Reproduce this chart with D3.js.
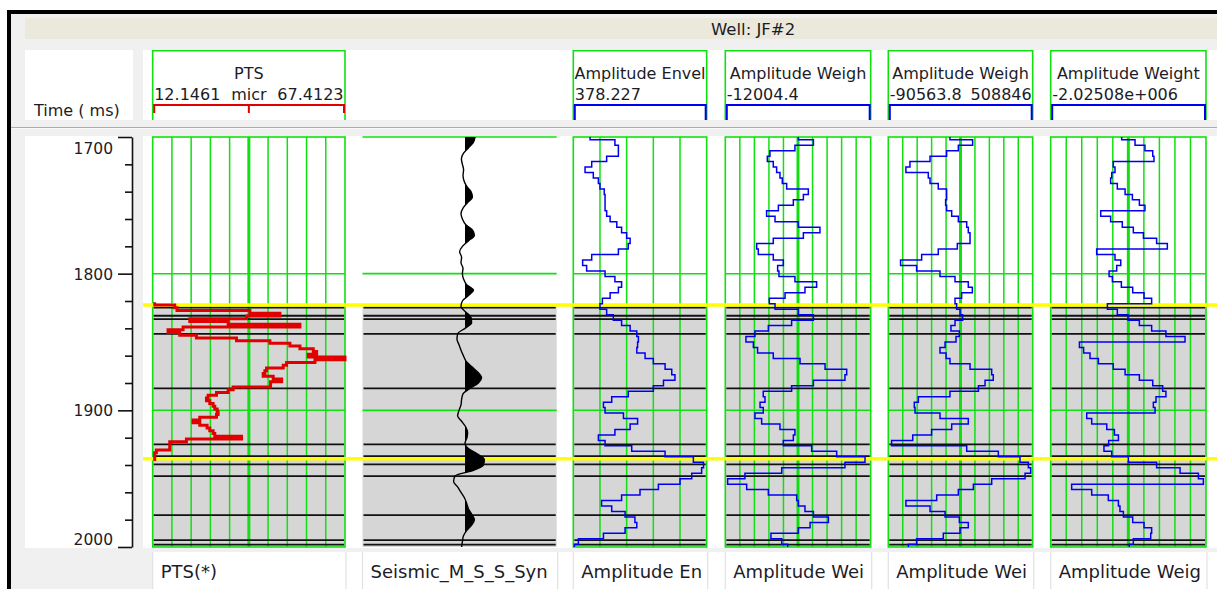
<!DOCTYPE html>
<html>
<head>
<meta charset="utf-8">
<script src="https://cdn.jsdelivr.net/npm/d3@7"></script>
<style>
  html, body { margin: 0; padding: 0; background: #fff; }
  svg { display: block; font-family: "DejaVu Sans", Verdana, sans-serif; }
</style>
</head>
<body>
<svg id="chart" width="1217" height="589"></svg>
<script>
// ---------------- data ----------------
const wellName = "Well: JF#2";
const timeDomain = [1700, 2000];
const majorTicks = [1700, 1800, 1900, 2000];
const minorTicks = [1720, 1740, 1760, 1780, 1820, 1840, 1860, 1880, 1920, 1940, 1960, 1980];

// log samples every 4 ms starting at 1700 ms
const sampleStart = 1700;
const sampleStep = 4;

// amplitude envelope (grid divisions, 0..5)
const envelope = [0.63,1.56,1.69,1.69,1.25,0.69,0.44,0.75,0.94,1.0,1.16,1.19,1.19,1.19,1.25,1.38,1.63,1.81,2.0,2.13,2.06,1.69,0.69,0.35,0.5,1.19,1.56,1.81,1.69,1.38,1.09,1.0,1.25,1.5,1.81,2.13,2.38,2.44,2.41,2.38,2.69,3.0,3.44,3.69,3.81,3.38,3.0,2.06,1.44,1.13,1.19,1.88,2.41,2.13,1.56,0.94,1.19,2.19,3.44,4.5,4.88,4.81,4.44,4.0,3.19,2.5,1.81,1.06,1.44,1.94,2.31,2.38,1.94,1.13,0.19,0.04];

// amplitude weighted traces (grid divisions, 0..10)
const weigh1 = [5.02,6.06,4.79,3.07,2.89,3.30,3.53,3.76,3.92,4.22,5.71,5.37,4.68,3.65,2.84,3.42,5.02,6.51,5.37,3.30,2.16,2.27,3.30,3.99,3.60,3.69,4.79,6.28,5.48,4.11,3.03,3.42,5.02,6.06,4.56,2.96,2.04,1.42,1.93,2.22,3.30,5.14,6.86,8.35,8.23,6.06,4.56,2.61,2.73,2.39,2.61,2.04,2.50,3.76,4.79,4.68,3.99,5.94,7.66,9.61,8.23,3.88,1.35,0.16,1.47,2.96,4.91,5.02,5.48,6.06,7.09,5.83,5.02,3.14,3.88,4.29];

const weigh2 = [4.27,5.84,4.85,4.04,2.89,1.50,1.22,2.77,2.89,3.46,4.04,4.04,3.97,4.04,4.39,4.85,5.43,5.54,5.66,5.66,4.78,3.46,2.31,0.85,1.96,3.58,4.62,5.54,5.82,5.08,4.62,4.73,4.97,5.15,4.62,4.34,4.92,4.69,3.93,3.58,4.0,4.27,5.66,7.16,7.27,6.70,6.24,4.27,2.08,1.80,1.85,3.58,5.54,4.39,3.0,1.69,0.23,5.43,7.62,9.12,9.70,9.86,9.47,7.16,5.89,4.85,3.35,1.22,2.89,3.93,4.92,5.54,4.97,3.81,1.96,1.39];

const weight3 = [4.57,5.43,6.07,6.57,6.65,4.03,4.14,3.93,3.86,4.29,4.79,5.26,5.71,6.07,3.22,3.86,4.61,5.32,5.97,6.82,7.51,2.96,4.14,4.51,4.25,3.76,3.97,4.55,5.28,6.01,6.50,3.65,4.29,4.98,5.71,6.50,7.42,8.65,1.85,2.12,2.53,3.07,4.03,4.79,5.71,6.57,7.21,7.42,6.78,6.61,6.72,2.32,2.64,3.61,4.10,4.36,3.73,3.43,3.93,5.0,6.82,8.33,9.51,9.83,1.35,2.64,3.71,4.36,4.46,4.68,5.28,6.01,6.50,6.44,5.32,5.06];

// synthetic seismic trace (normalised amplitude, -1..1)
const seismic = [0.5,0.42,0.17,-0.08,-0.18,-0.13,-0.07,-0.1,-0.05,0.08,0.3,0.37,0.13,-0.1,-0.2,-0.13,0.03,0.37,0.47,0.17,-0.13,-0.27,-0.17,-0.2,-0.1,-0.13,-0.07,0.08,0.42,0.17,-0.13,-0.2,0.03,0.3,0.33,0,-0.37,-0.4,-0.3,-0.2,-0.08,0.05,0.33,0.63,0.83,0.67,0.25,-0.1,-0.17,-0.2,-0.3,-0.37,-0.17,0.03,0.13,0.1,0,0.17,0.63,0.97,0.92,0.42,-0.5,-0.57,-0.37,-0.2,-0.03,0.08,0.17,0.33,0.47,0.33,0.08,-0.08,-0.13,-0.17];

// PTS log (micr), sampled every 2 ms from 1822 ms
const ptsStart = 1822;
const ptsStep = 2;
const pts = [12.72,18.48,19.14,40.07,48.7,39.1,22.8,33.83,54.46,20.88,16.56,19.92,24.72,36.23,45.83,51.58,54.46,58.3,59.26,56.85,67.41,58.78,50.62,49.66,44.87,44.39,43.9,46.79,49.19,46.02,46.02,35.27,33.83,30.48,28.07,27.6,28.55,29.51,29.99,30.66,30.95,30.48,25.68,23.75,25.68,27.78,28.55,29.51,29.99,37.68,21.84,17.04,17.04,17.04,13.2,12.72,12.72,12.72];

// interpreted horizons and layer boundaries (ms)
const horizonTimes = [1822.9, 1935.5];
const layerTimes = [1824.9, 1830.8, 1833.3, 1844.1, 1883.9, 1924.9, 1933.6, 1939.5, 1948.2, 1976.7, 1995.0, 1998.3];
const zoneTop = 1822.9;

// header and footer labels
const headerTitles = ["PTS", "", "Amplitude Envel", "Amplitude Weigh", "Amplitude Weigh", "Amplitude Weight"];
const headerLeft = ["12.1461", "", "378.227", "-12004.4", "-90563.8", "-2.02508e+006"];
const headerRight = ["67.4123", "", "", "", "508846", ""];
const ptsUnit = "micr";
const footerLabels = ["PTS(*)", "Seismic_M_S_S_Syn", "Amplitude En", "Amplitude Wei", "Amplitude Wei", "Amplitude Weig"];

// ---------------- layout ----------------
const W = 1217, H = 589;
const plotTop = 137, plotBottom = 547;
const GREEN = "#10e010", BLUE = "#0000f0", RED = "#e00000", TEXT = "#1c1c26";
const HEADER_FONT = 16, FOOTER_FONT = 18;

const tracks = [
  { kind: "pts",  x0: 152.7, x1: 345,    domain: [12.1461, 67.4123], divisions: 10 },
  { kind: "seis", x0: 362.5, x1: 556.7,  domain: [-1, 1],            divisions: 0 },
  { kind: "amp",  x0: 573.3, x1: 706.7,  domain: [0, 5],             divisions: 5,  values: envelope },
  { kind: "amp",  x0: 725.3, x1: 870.7,  domain: [0, 10],            divisions: 10, values: weigh1 },
  { kind: "amp",  x0: 888.3, x1: 1032.7, domain: [0, 10],            divisions: 10, values: weigh2 },
  { kind: "amp",  x0: 1050.7, x1: 1206,  domain: [0, 10],            divisions: 10, values: weight3 }
];

const svg = d3.select("#chart");
const y = d3.scaleLinear().domain(timeDomain).range([plotTop, plotBottom]);

// ---------------- window frame ----------------
svg.append("rect").attr("width", W).attr("height", H).attr("fill", "#fff");
svg.append("rect").attr("x", 7).attr("y", 10).attr("width", W - 7).attr("height", H - 10).attr("fill", "#000");
svg.append("rect").attr("x", 11).attr("y", 14).attr("width", W - 11).attr("height", H - 14).attr("fill", "#f0f0f0");

// title strip
svg.append("rect").attr("x", 25).attr("y", 18).attr("width", W - 25).attr("height", 21).attr("fill", "#ebe8dc");
svg.append("text").attr("x", 711).attr("y", 35).attr("font-size", 16.5).attr("fill", TEXT).text(wellName);

// header row panels
svg.append("rect").attr("x", 25).attr("y", 50).attr("width", 108).attr("height", 70).attr("fill", "#fff");
svg.append("rect").attr("x", 143).attr("y", 50).attr("width", W - 143).attr("height", 70).attr("fill", "#fff");
svg.append("line").attr("x1", 11).attr("x2", W).attr("y1", 127.5).attr("y2", 127.5).attr("stroke", "#acacac").attr("stroke-width", 1);
svg.append("line").attr("x1", 11).attr("x2", W).attr("y1", 128.6).attr("y2", 128.6).attr("stroke", "#fafafa").attr("stroke-width", 1);

// plot panels
svg.append("rect").attr("x", 25).attr("y", 136).attr("width", 108).attr("height", 412).attr("fill", "#fff");
svg.append("rect").attr("x", 143).attr("y", 136).attr("width", W - 143).attr("height", 412).attr("fill", "#fff");

// footer panel
svg.append("rect").attr("x", 152.7).attr("y", 552).attr("width", W - 152.7).attr("height", H - 552).attr("fill", "#fff");

// ---------------- time axis ----------------
svg.append("text").attr("x", 34).attr("y", 116).attr("font-size", 16).attr("fill", TEXT).text("Time ( ms)");

const axisG = svg.append("g").attr("transform", "translate(132,0)");
axisG.call(d3.axisLeft(y).tickValues(majorTicks).tickSize(14).tickSizeOuter(0).tickFormat(d3.format("d")));
axisG.select(".domain").attr("stroke", "#111").attr("stroke-width", 1.6);
axisG.selectAll(".tick line").attr("stroke", "#111").attr("stroke-width", 1.6);
axisG.selectAll(".tick text")
  .attr("font-family", "DejaVu Sans, Verdana, sans-serif")
  .attr("font-size", 15.5)
  .attr("fill", TEXT)
  .attr("x", -19)
  .attr("dy", d => d === timeDomain[0] ? "1.05em" : d === timeDomain[1] ? "-0.15em" : "0.36em");

const minorG = svg.append("g").attr("transform", "translate(132,0)");
minorG.call(d3.axisLeft(y).tickValues(minorTicks).tickSize(7).tickFormat(""));
minorG.select(".domain").remove();
minorG.selectAll(".tick line").attr("stroke", "#111").attr("stroke-width", 1.6);

// ---------------- tracks ----------------
const defs = svg.append("defs");

function stepPoints(values, start, step) {
  const out = [];
  values.forEach((v, i) => {
    const t = start + i * step;
    out.push({ t: Math.max(timeDomain[0], t - step / 2), v });
    out.push({ t: Math.min(timeDomain[1], t + step / 2), v });
  });
  return out;
}

tracks.forEach((tr, idx) => {
  const x = d3.scaleLinear().domain(tr.domain).range([tr.x0, tr.x1]);
  const g = svg.append("g");
  const w = tr.x1 - tr.x0;
  const cx = (tr.x0 + tr.x1) / 2;

  // shaded zone
  g.append("rect").attr("x", tr.x0).attr("y", y(zoneTop)).attr("width", w)
    .attr("height", plotBottom - y(zoneTop)).attr("fill", "#d6d6d6");

  // grid
  const grid = g.append("g").attr("stroke", GREEN).attr("fill", "none");
  if (tr.kind === "seis") {
    [1700, 1800, 1900].forEach(t => {
      grid.append("line").attr("x1", tr.x0).attr("x2", tr.x1).attr("y1", y(t)).attr("y2", y(t)).attr("stroke-width", 1.6);
    });
  } else {
    const divs = d3.range(1, tr.divisions);
    const divScale = d3.scaleLinear().domain([0, tr.divisions]).range([tr.x0, tr.x1]);
    divs.forEach(d => {
      const isCenter = tr.divisions === 10 && d === 5;
      grid.append("line").attr("x1", divScale(d)).attr("x2", divScale(d))
        .attr("y1", plotTop).attr("y2", plotBottom).attr("stroke-width", isCenter ? 3 : 1.5);
    });
    [1800, 1900].forEach(t => {
      grid.append("line").attr("x1", tr.x0).attr("x2", tr.x1).attr("y1", y(t)).attr("y2", y(t)).attr("stroke-width", 1.5);
    });
    grid.append("rect").attr("x", tr.x0).attr("y", plotTop).attr("width", w)
      .attr("height", plotBottom - plotTop).attr("stroke-width", 1.6);
  }

  // layer boundaries
  layerTimes.forEach(t => {
    g.append("line").attr("x1", tr.x0 + 1).attr("x2", tr.x1 - 1).attr("y1", y(t)).attr("y2", y(t))
      .attr("stroke", "#111").attr("stroke-width", 1.8);
  });

  // header box
  const hg = svg.append("g");
  if (tr.kind !== "seis") {
    hg.append("path")
      .attr("d", `M${tr.x0},120 V50.7 H${tr.x1} V120`)
      .attr("fill", "none").attr("stroke", GREEN).attr("stroke-width", 1.6);
    const clipId = "hclip" + idx;
    defs.append("clipPath").attr("id", clipId).append("rect")
      .attr("x", tr.x0 + 1).attr("y", 52).attr("width", w - 2).attr("height", 52);
    const tg = hg.append("g").attr("clip-path", `url(#${clipId})`).attr("font-size", HEADER_FONT).attr("fill", TEXT);
    tg.append("text").attr("x", cx).attr("y", 79).attr("text-anchor", "middle").text(headerTitles[idx]);
    if (tr.kind === "pts") {
      tg.append("text").attr("x", tr.x0 + 1.5).attr("y", 100).text(headerLeft[idx]);
      tg.append("text").attr("x", cx).attr("y", 100).attr("text-anchor", "middle").text(ptsUnit);
      tg.append("text").attr("x", tr.x1 - 1.5).attr("y", 100).attr("text-anchor", "end").text(headerRight[idx]);
      hg.append("path")
        .attr("d", `M${tr.x0 + 1.5},113 V105 H${tr.x1 - 1} V113 M${cx},105 V113`)
        .attr("fill", "none").attr("stroke", RED).attr("stroke-width", 2);
    } else {
      tg.append("text").attr("x", tr.x0 + 1.5).attr("y", 100).text(headerLeft[idx]);
      if (headerRight[idx]) {
        tg.append("text").attr("x", tr.x1 - 1).attr("y", 100).attr("text-anchor", "end").text(headerRight[idx]);
      }
      hg.append("path")
        .attr("d", `M${tr.x0 + 1.5},120 V105 H${tr.x1 - 1} V120`)
        .attr("fill", "none").attr("stroke", BLUE).attr("stroke-width", 2);
    }
  }

  // footer label
  svg.append("text").attr("x", tr.x0 + 8).attr("y", 578).attr("font-size", FOOTER_FONT).attr("fill", TEXT).text(footerLabels[idx]);
  tr.scale = x;
});

// footer separators
const sepXs = [];
tracks.forEach(tr => { sepXs.push(tr.x0, tr.x1 + 1); });
svg.append("g").selectAll("line").data(sepXs).join("line")
  .attr("x1", d => d).attr("x2", d => d).attr("y1", 552).attr("y2", H)
  .attr("stroke", "#e2e2e2").attr("stroke-width", 1.2);

// horizons
horizonTimes.forEach(t => {
  svg.append("line").attr("x1", 143).attr("x2", W).attr("y1", y(t)).attr("y2", y(t))
    .attr("stroke", "#ffff00").attr("stroke-width", 3.5);
});

// ---------------- curves ----------------
tracks.forEach(tr => {
  const x = tr.scale;
  if (tr.kind === "amp") {
    const line = d3.line().x(d => x(d.v)).y(d => y(d.t));
    svg.append("path").datum(stepPoints(tr.values, sampleStart, sampleStep))
      .attr("d", line).attr("fill", "none").attr("stroke", BLUE).attr("stroke-width", 1.5)
      .attr("stroke-linejoin", "miter");
  } else if (tr.kind === "pts") {
    const line = d3.line().x(d => x(d.v)).y(d => y(d.t));
    svg.append("path").datum(stepPoints(pts, ptsStart, ptsStep))
      .attr("d", line).attr("fill", "none").attr("stroke", RED).attr("stroke-width", 3)
      .attr("stroke-linejoin", "miter");
  } else {
    const xs = d3.scaleLinear().domain([-1, 1]).range([445, 485]);
    const data = seismic.map((v, i) => ({ t: sampleStart + i * sampleStep, v }));
    const clipId = "seisclip";
    defs.append("clipPath").attr("id", clipId).append("rect")
      .attr("x", xs(0)).attr("y", plotTop).attr("width", 60).attr("height", plotBottom - plotTop);
    const area = d3.area().y(d => y(d.t)).x0(xs(0)).x1(d => xs(d.v)).curve(d3.curveMonotoneY);
    svg.append("path").datum(data).attr("d", area).attr("fill", "#000").attr("clip-path", `url(#${clipId})`);
    const line = d3.line().y(d => y(d.t)).x(d => xs(d.v)).curve(d3.curveMonotoneY);
    svg.append("path").datum(data).attr("d", line).attr("fill", "none").attr("stroke", "#000").attr("stroke-width", 1.4);
  }
});
</script>
</body>
</html>
